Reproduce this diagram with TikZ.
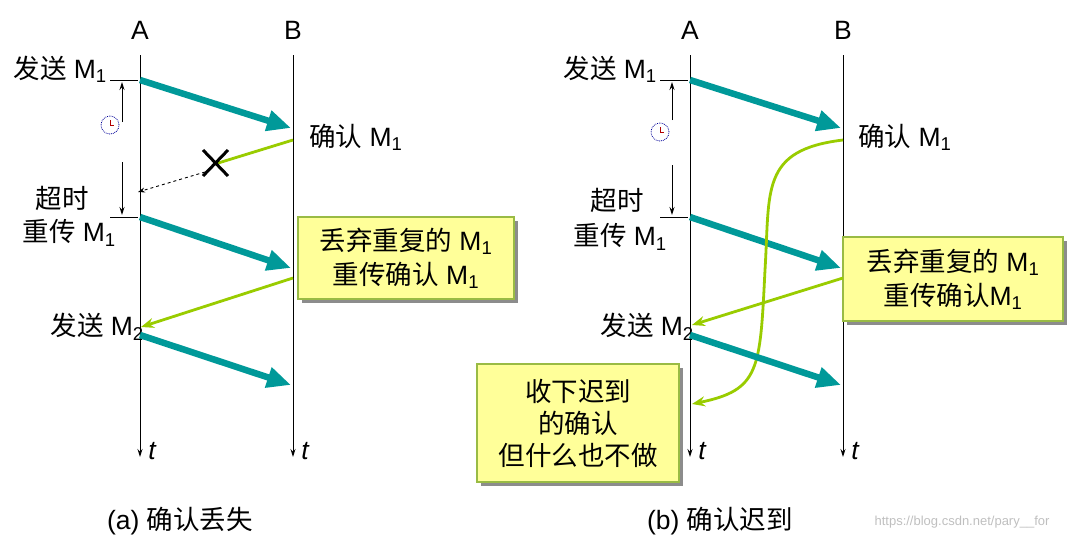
\documentclass[tikz,border=0pt]{standalone}
\usepackage{fontspec}
\setmainfont{Liberation Sans}
\newfontfamily\cjk{Noto Sans CJK SC}
\usetikzlibrary{arrows.meta,shadows}
\definecolor{CTeal}{HTML}{009999}
\definecolor{CGreen}{HTML}{99CC00}
\definecolor{CYellow}{HTML}{FFFF99}
\definecolor{CBorder}{HTML}{99BB44}
\tikzset{
  lbl/.style={font=\fontsize{26.5}{30}\selectfont, inner sep=1pt},
  tlbl/.style={font=\fontsize{26.5}{30}\selectfont\itshape, inner sep=1pt},
  timeline/.style={line width=1pt, -{Stealth[length=8pt,width=5pt]}},
  data/.style={CTeal, line width=6.5pt, -{Triangle[length=24pt,width=20pt]}},
  ack/.style={CGreen, line width=2.8pt, -{Stealth[length=13pt,width=10pt]}},
  note/.style={fill=CYellow, draw=CBorder, line width=1.2pt, align=center, font=\fontsize{26.5}{34}\selectfont,
    drop shadow={shadow xshift=4pt, shadow yshift=-4pt, fill=black!45, opacity=1}},
  tick/.style={line width=0.8pt},
  timer/.style={line width=1pt, -{Stealth[length=8pt,width=5pt]}}
}
\newcommand{\clk}[1]{%
  \draw[blue!60!black, fill=white, densely dotted, line width=0.8pt] #1 circle (9pt);
  \draw[red!70!black, line width=0.8pt] #1 ++(0,5pt) -- ++(0,-5pt) -- ++(4pt,0);
}
\begin{document}
\begin{tikzpicture}[x=1pt,y=-1pt]
  \useasboundingbox (0,0) rectangle (1074,546);

  % ============================================
  % PANEL (a): ack lost
  % ============================================
  \node[lbl] (aA) at (140,30) {A};
  \node[lbl] (aB) at (293,30) {B};
  \coordinate (aAtop) at (140,55); \coordinate (aAbot) at (140,457);
  \coordinate (aBtop) at (293,55); \coordinate (aBbot) at (293,457);
  \draw[timeline] (aAtop) -- (aAbot);
  \draw[timeline] (aBtop) -- (aBbot);
  \node[tlbl] (aAt) at (152,451) {t};
  \node[tlbl] (aBt) at (305,451) {t};

  % send M1 and timer
  \node[lbl, anchor=east] (aSend1) at (108,69) {{\cjk 发送} M\textsubscript{1}};
  \draw[tick] (110,80) -- (138,80);
  \draw[tick] (110,217) -- (138,217);
  \draw[timer] (122,122) -- (122,82);
  \draw[timer] (122,162) -- (122,215);
  \clk{(110,125)}
  \coordinate (aS1) at (140,80); \coordinate (aR1) at (291,128);
  \draw[data] (aS1) -- (aR1);
  \node[lbl, anchor=west] (aAck1) at (308,137) {{\cjk 确认} M\textsubscript{1}};

  % lost ack
  \coordinate (aK1) at (293,140); \coordinate (aX) at (215,164);
  \draw[CGreen, line width=2.8pt] (aK1) -- (aX);
  \draw[line width=3pt] (203,150) -- (228,176) (203,176) -- (228,150);
  \coordinate (aTo) at (138,192);
  \draw[dashed, line width=0.9pt, -{Stealth[length=7pt,width=5pt]}] (205,172) -- (aTo);

  % retransmit
  \node[lbl] (aTout) at (62,198) {\cjk 超时};
  \node[lbl, anchor=east] (aResend) at (117,233) {{\cjk 重传} M\textsubscript{1}};
  \coordinate (aS2) at (140,217); \coordinate (aR2) at (291,268);
  \draw[data] (aS2) -- (aR2);
  \node[note, minimum width=216pt, minimum height=82pt] (aNote) at (406,258)
    {{\cjk 丢弃重复的} M\textsubscript{1}\\{\cjk 重传确认} M\textsubscript{1}};
  \coordinate (aK2) at (293,278); \coordinate (aG2) at (141,327);
  \draw[ack] (aK2) -- (aG2);

  % send M2
  \node[lbl, anchor=east] (aSend2) at (145,327) {{\cjk 发送} M\textsubscript{2}};
  \coordinate (aS3) at (140,335); \coordinate (aR3) at (291,385);
  \draw[data] (aS3) -- (aR3);
  \node[lbl] (aCap) at (180,521) {(a) {\cjk 确认丢失}};

  % ============================================
  % PANEL (b): ack late
  % ============================================
  \node[lbl] (bA) at (690,30) {A};
  \node[lbl] (bB) at (843,30) {B};
  \coordinate (bAtop) at (690,55); \coordinate (bAbot) at (690,457);
  \coordinate (bBtop) at (843,55); \coordinate (bBbot) at (843,457);
  \draw[timeline] (bAtop) -- (bAbot);
  \draw[timeline] (bBtop) -- (bBbot);
  \node[tlbl] (bAt) at (702,451) {t};
  \node[tlbl] (bBt) at (855,451) {t};

  \node[lbl, anchor=east] (bSend1) at (658,69) {{\cjk 发送} M\textsubscript{1}};
  \draw[tick] (660,80) -- (688,80);
  \draw[tick] (660,217) -- (688,217);
  \draw[timer] (672,120) -- (672,82);
  \draw[timer] (672,165) -- (672,215);
  \clk{(660,132)}
  \coordinate (bS1) at (690,80); \coordinate (bR1) at (841,128);
  \draw[data] (bS1) -- (bR1);
  \node[lbl, anchor=west] (bAck1) at (857,137) {{\cjk 确认} M\textsubscript{1}};

  \node[lbl] (bTout) at (617,200) {\cjk 超时};
  \node[lbl, anchor=east] (bResend) at (668,237) {{\cjk 重传} M\textsubscript{1}};
  \coordinate (bS2) at (690,217); \coordinate (bR2) at (841,268);
  \draw[data] (bS2) -- (bR2);
  \node[note, minimum width=220pt, minimum height=84pt] (bNote) at (953,279)
    {{\cjk 丢弃重复的} M\textsubscript{1}\\{\cjk 重传确认}M\textsubscript{1}};
  \coordinate (bK2) at (843,278); \coordinate (bG2) at (692,325);
  \draw[ack] (bK2) -- (bG2);

  % late ack
  \coordinate (bK1) at (843,140); \coordinate (bLate) at (692,404);
  \draw[ack] (bK1) .. controls (760,150) and (770,190) .. (765,270)
    .. controls (760,370) and (760,390) .. (bLate);

  \node[lbl, anchor=east] (bSend2) at (695,327) {{\cjk 发送} M\textsubscript{2}};
  \coordinate (bS3) at (690,335); \coordinate (bR3) at (841,385);
  \draw[data] (bS3) -- (bR3);
  \node[note, minimum width=202pt, minimum height=118pt, font=\fontsize{26.5}{32}\selectfont] (bNote2) at (578,423)
    {\cjk 收下迟到\\\cjk 的确认\\\cjk 但什么也不做};
  \node[lbl] (bCap) at (720,521) {(b) {\cjk 确认迟到}};
  \node[font=\fontsize{13}{14}\selectfont, text=black!25] (wm) at (962,522) {https://blog.csdn.net/pary\_\_for};
\end{tikzpicture}
\end{document}
